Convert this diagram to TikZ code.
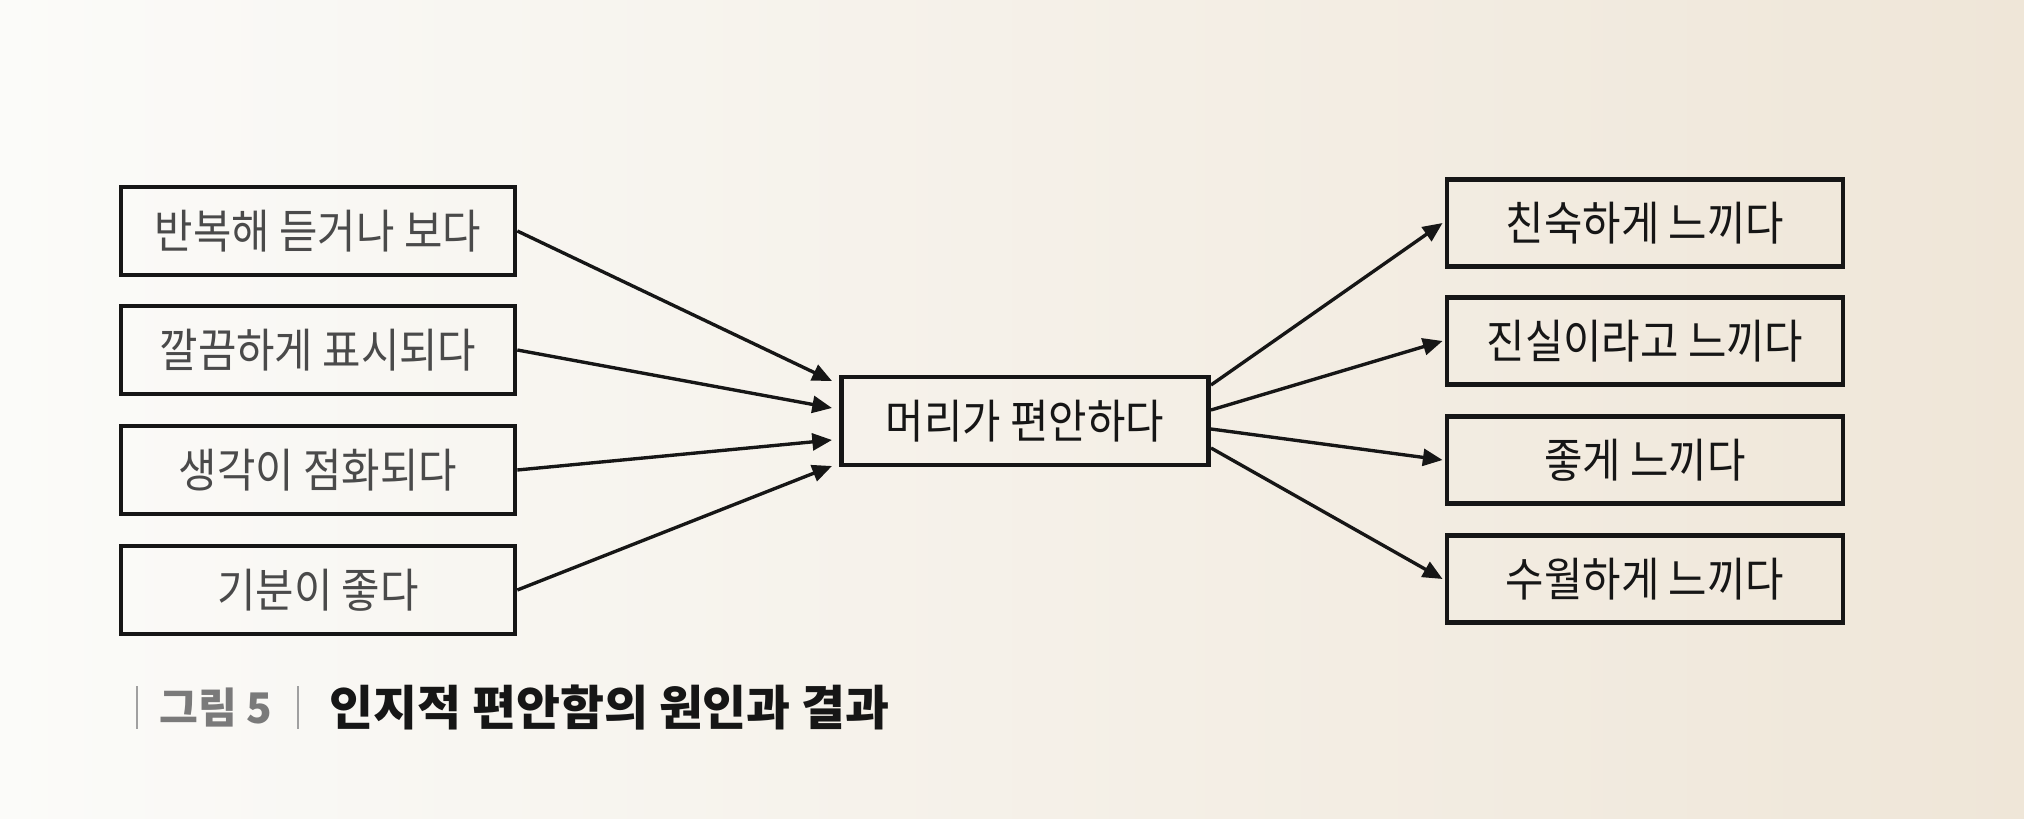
\documentclass[tikz,border=0pt]{standalone}
\usepackage{fontspec}
\setmainfont{Noto Sans CJK KR}
\newfontfamily\krfont{Noto Sans CJK KR}
\newfontfamily\krnarrow[FakeStretch=0.9]{Noto Sans CJK KR}
\usetikzlibrary{arrows.meta}
\definecolor{paperL}{HTML}{FBFBF9}
\definecolor{paperR}{HTML}{EFE6D8}
\definecolor{ink}{HTML}{161616}
\definecolor{softink}{HTML}{4A4A4A}
\definecolor{capgray}{HTML}{7A7A7A}
\definecolor{bargray}{HTML}{A0A0A0}
\tikzset{
  x=0.25mm, y=-0.25mm,
  boxtext/.style={font=\krnarrow\fontsize{33}{35}\selectfont},
  boxL/.style={boxtext, draw=ink, line width=3.3pt, minimum width=394*0.25mm, minimum height=88*0.25mm, inner sep=0pt, text=softink},
  boxC/.style={boxtext, draw=ink, line width=3.3pt, minimum width=367*0.25mm, minimum height=88*0.25mm, inner sep=0pt, text=ink},
  boxR/.style={boxtext, draw=ink, line width=3.3pt, minimum width=396*0.25mm, minimum height=87*0.25mm, inner sep=0pt, text=ink},
  conn/.style={draw=ink, line width=2.4pt, -{Triangle[length=14pt,width=12pt]}},
}
\begin{document}
\begin{tikzpicture}
\shade[left color=paperL, right color=paperR] (0,0) rectangle (2024,819);
\useasboundingbox (0,0) rectangle (2024,819);

\node[boxL] (L1) at (318,231) {반복해 듣거나 보다};
\node[boxL] (L2) at (318,350) {깔끔하게 표시되다};
\node[boxL] (L3) at (318,470) {생각이 점화되다};
\node[boxL] (L4) at (318,590) {기분이 좋다};

\node[boxC] (C) at (1025,421) {머리가 편안하다};

\node[boxR] (R1) at (1645,223) {친숙하게 느끼다};
\node[boxR] (R2) at (1645,341) {진실이라고 느끼다};
\node[boxR] (R3) at (1645,460) {좋게 느끼다};
\node[boxR] (R4) at (1645,579) {수월하게 느끼다};

\coordinate (i1) at (832,381);
\coordinate (i2) at (832,408);
\coordinate (i3) at (832,440);
\coordinate (i4) at (832,466);
\coordinate (o1) at (1211,385);
\coordinate (o2) at (1211,410);
\coordinate (o3) at (1211,429);
\coordinate (o4) at (1211,448);

\draw[conn] (L1.east) -- (i1);
\draw[conn] (L2.east) -- (i2);
\draw[conn] (L3.east) -- (i3);
\draw[conn] (L4.east) -- (i4);

\draw[conn] (o1) -- ([xshift=-1.5pt]R1.west);
\draw[conn] (o2) -- ([xshift=-1.5pt]R2.west);
\draw[conn] (o3) -- ([xshift=-1.5pt]R3.west);
\draw[conn] (o4) -- ([xshift=-1.5pt]R4.west);

\coordinate (b1t) at (137,686);
\coordinate (b1b) at (137,729);
\coordinate (b2t) at (298,686);
\coordinate (b2b) at (298,729);
\draw[bargray, line width=1.4pt] (b1t) -- (b1b);
\draw[bargray, line width=1.4pt] (b2t) -- (b2b);
\node[text=capgray, font=\krfont\bfseries\fontsize{30}{32}\selectfont, inner sep=0pt] (fig) at (216,708) {그림 5};
\node[text=ink, font=\krfont\bfseries\fontsize{34}{36}\selectfont, anchor=west, inner sep=0pt] (title) at (329,708) {인지적 편안함의 원인과 결과};
\end{tikzpicture}
\end{document}
